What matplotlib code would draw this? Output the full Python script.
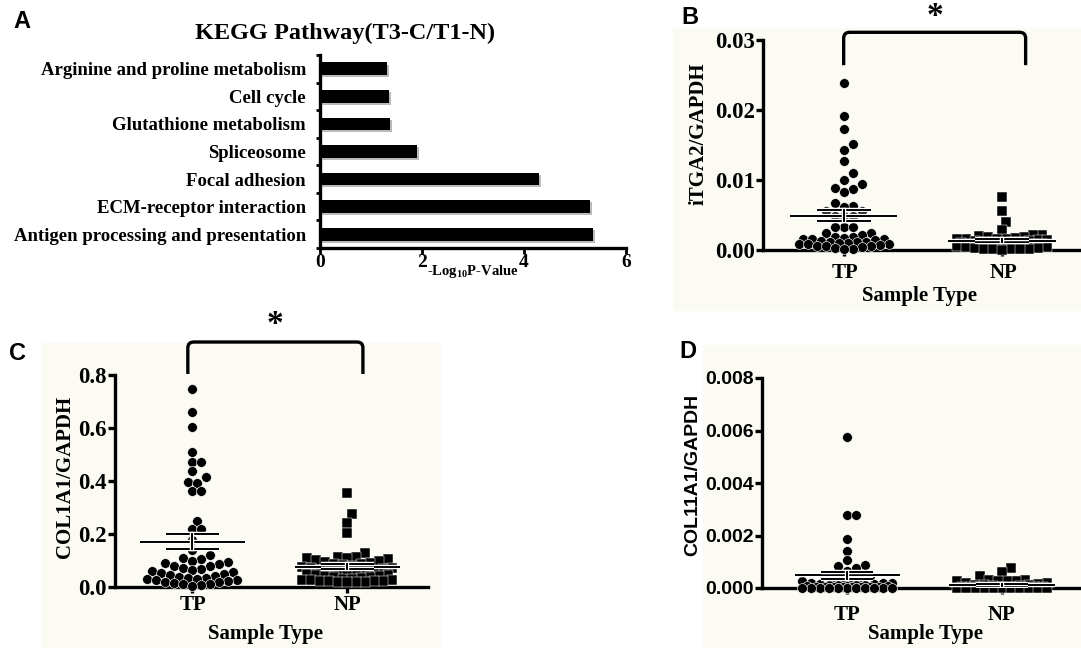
import numpy as np
import matplotlib
matplotlib.use("Agg")
import matplotlib.pyplot as plt
import matplotlib.patheffects as pe
from matplotlib.path import Path
from matplotlib.patches import PathPatch, Rectangle

# ---- data ----
kegg_pathways = ["Arginine and proline metabolism", "Cell cycle", "Glutathione metabolism",
                 "Spliceosome", "Focal adhesion", "ECM-receptor interaction",
                 "Antigen processing and presentation"]
kegg_neglog10p = [1.31, 1.35, 1.37, 1.90, 4.29, 5.29, 5.35]

groups = ["TP", "NP"]

itga2_tp = [0.0239, 0.0192, 0.0173, 0.0152, 0.0143, 0.0127, 0.0110, 0.0100, 0.0094,
            0.0088, 0.0087, 0.0083, 0.0067, 0.0063, 0.0062, 0.0055, 0.0055, 0.0048,
            0.0048, 0.0048, 0.0033, 0.0033, 0.0033, 0.0024, 0.0024,
            0.0021, 0.0019, 0.0018, 0.0017, 0.0016, 0.0015, 0.0015, 0.0014, 0.0013,
            0.0012, 0.0012, 0.0011, 0.0010, 0.0010, 0.0009, 0.0008, 0.0008, 0.0007,
            0.0006, 0.0006, 0.0005, 0.0004, 0.0003, 0.0002, 0.0001]
itga2_np = [0.0076, 0.0055, 0.0040, 0.0028, 0.0022, 0.0021, 0.0020, 0.0019, 0.0018,
            0.0017, 0.0016, 0.0016, 0.0015, 0.0015, 0.0014, 0.0014, 0.0013, 0.0013,
            0.0012, 0.0012, 0.0011, 0.0011, 0.0010, 0.0010, 0.0009, 0.0009, 0.0008,
            0.0008, 0.0007, 0.0007, 0.0006, 0.0006, 0.0005, 0.0005, 0.0004, 0.0004,
            0.0003, 0.0003, 0.0002, 0.0002, 0.0001, 0.0001, 0.0001, 0.0000]

col1a1_tp = [0.747, 0.659, 0.605, 0.511, 0.473, 0.473, 0.439, 0.416, 0.397, 0.394,
             0.361, 0.361, 0.250, 0.218, 0.218, 0.177, 0.140,
             0.120, 0.110, 0.105, 0.100, 0.095, 0.090, 0.085, 0.080, 0.078, 0.072,
             0.068, 0.065, 0.060, 0.056, 0.052, 0.048, 0.045, 0.042, 0.038, 0.035,
             0.035, 0.032, 0.030, 0.028, 0.025, 0.022, 0.020, 0.018, 0.015, 0.012,
             0.010, 0.008, 0.005]
col1a1_np = [0.354, 0.275, 0.243, 0.203, 0.129,
             0.115, 0.112, 0.110, 0.108, 0.105, 0.102, 0.100, 0.096, 0.092, 0.088,
             0.085, 0.082, 0.078, 0.075, 0.072, 0.070, 0.068, 0.065, 0.062, 0.060,
             0.058, 0.055, 0.052, 0.050, 0.048, 0.046, 0.044, 0.042, 0.040, 0.038,
             0.036, 0.034, 0.032, 0.030, 0.028, 0.026, 0.025, 0.024, 0.023, 0.022,
             0.021, 0.020, 0.019, 0.018, 0.017]

col11a1_tp = [0.00576, 0.00278, 0.00278, 0.00185, 0.00142, 0.00107, 0.00088, 0.00085,
              0.00075, 0.00065, 0.00045, 0.00045,
              0.00040, 0.00035, 0.00030, 0.00030, 0.00025, 0.00020, 0.00020, 0.00018,
              0.00015, 0.00015, 0.00012, 0.00010, 0.00010, 0.00010, 0.00008, 0.00008,
              0.00006, 0.00005, 0.00005, 0.00004, 0.00003, 0.00003, 0.00002, 0.00002,
              0.00002, 0.00001, 0.00001, 0.00001, 0.00001, 0.00001, 0.0, 0.0, 0.0,
              0.0, 0.0, 0.0]
col11a1_np = [0.00075, 0.00060, 0.00045, 0.00030, 0.00030, 0.00028, 0.00028, 0.00025,
              0.00025, 0.00020, 0.00018, 0.00015, 0.00012, 0.00010, 0.00010, 0.00008,
              0.00006, 0.00005, 0.00004, 0.00003, 0.00003, 0.00002, 0.00002, 0.00002,
              0.00001, 0.00001, 0.00001, 0.00001, 0.00001, 0.00001, 0.0, 0.0, 0.0, 0.0,
              0.0, 0.0, 0.0, 0.0, 0.0, 0.0]

SERIF = "Liberation Serif"
SANS = "Liberation Sans"
plt.rcParams["mathtext.fontset"] = "custom"
plt.rcParams["mathtext.rm"] = "Liberation Serif:bold"
plt.rcParams["mathtext.bf"] = "Liberation Serif:bold"
plt.rcParams["mathtext.default"] = "rm"

W, H = 1081, 648
fig = plt.figure(figsize=(W / 100, H / 100), dpi=100)


def px_axes(left, top, right, bottom):
    return fig.add_axes([left / W, 1 - bottom / H, (right - left) / W, (bottom - top) / H])


def ftext(x, y, s, **kw):
    return fig.text(x / W, 1 - y / H, s, ha="center", va="center", **kw)


# faint cream panels behind B, C, D
for x0, y0, x1, y1 in [(673, 28, 1081, 310), (42, 343, 440, 648), (703, 345, 1081, 648)]:
    fig.patches.append(Rectangle((x0 / W, 1 - y1 / H), (x1 - x0) / W, (y1 - y0) / H,
                                 transform=fig.transFigure, color="#fcfbf3", zorder=-5))


def swarm_x(ax, center, vals, d, half_max):
    # beeswarm offsets worked out in pixel space
    t = ax.transData
    ypx = t.transform(np.column_stack([np.full(len(vals), center), vals]))[:, 1]
    sx = t.transform((1, 0))[0] - t.transform((0, 0))[0]
    cand = [0.0]
    k = 1
    while k * d / 2 <= half_max:
        cand += [k * d / 2, -k * d / 2]
        k += 1
    px_l, py_l = [], []
    offs = np.zeros(len(vals))
    for i in np.argsort(vals, kind="stable"):
        best = 0.0
        if px_l:
            px_a, py_a = np.array(px_l), np.array(py_l)
            best_gap = -1
            for c in cand:
                gap = np.min(np.hypot(px_a - c, py_a - ypx[i]))
                if gap >= d:
                    best = c
                    break
                if gap > best_gap:
                    best, best_gap = c, gap
        offs[i] = best
        px_l.append(best)
        py_l.append(ypx[i])
    return center + offs / sx


def bracket(ax, x0, x1, y_low, y_top, r=6):
    t = ax.transData
    (ax0, ay_low), (ax1, ay_top) = t.transform([(x0, y_low), (x1, y_top)])
    pts = [(ax0, ay_low), (ax0, ay_top - r), (ax0, ay_top), (ax0 + r, ay_top),
           (ax1 - r, ay_top), (ax1, ay_top), (ax1, ay_top - r), (ax1, ay_low)]
    pts = fig.transFigure.inverted().transform(pts)
    codes = [Path.MOVETO, Path.LINETO, Path.CURVE3, Path.CURVE3,
             Path.LINETO, Path.CURVE3, Path.CURVE3, Path.LINETO]
    fig.patches.append(PathPatch(Path(pts, codes), transform=fig.transFigure,
                                 fill=False, lw=2.4, color="black", capstyle="butt"))


def dot_panel(box, tp_vals, np_vals, xlim, ymax, ystep, fmt, tickfont, tickfs):
    ax = px_axes(*box)
    ax.set_xlim(*xlim)
    ax.set_ylim(0, ymax)
    ax.patch.set_alpha(0)
    for s in ["top", "right"]:
        ax.spines[s].set_visible(False)
    for s in ["left", "bottom"]:
        ax.spines[s].set_linewidth(2.4)
    yt = np.arange(0, ymax + ystep / 2, ystep)
    ax.set_yticks(yt)
    ax.set_yticklabels([fmt.format(v) for v in yt], fontfamily=tickfont,
                       fontweight="bold", fontsize=tickfs)
    ax.tick_params(axis="y", length=5, width=2.4, pad=1)
    ax.set_xticks([0, 1])
    ax.set_xticklabels([])
    ax.tick_params(axis="x", length=4, width=2.4)
    for i, (vals, mk, sz, ew) in enumerate([(tp_vals, "o", 50, 0.45), (np_vals, "s", 46, 0.35)]):
        vals = np.asarray(vals, dtype=float)
        xs = swarm_x(ax, i, vals, 9.0, 45)
        ax.scatter(xs, vals, marker=mk, s=sz, c="black", edgecolors="white",
                   linewidths=ew, zorder=3, clip_on=False)
        m = vals.mean()
        sem = vals.std(ddof=1) / np.sqrt(len(vals))
        fx = [pe.Stroke(linewidth=3.2, foreground="white"), pe.Normal()]
        ax.plot([i - 0.34, i + 0.34], [m, m], color="black", lw=1.4, zorder=4,
                path_effects=fx, solid_capstyle="butt")
        for yv in (m - sem, m + sem):
            ax.plot([i - 0.17, i + 0.17], [yv, yv], color="black", lw=1.4, zorder=4,
                    path_effects=fx, solid_capstyle="butt")
        ax.plot([i, i], [m - sem, m + sem], color="black", lw=1.4, zorder=4,
                path_effects=fx)
    return ax


# ---- A: KEGG bars ----
axA = px_axes(320, 55, 626, 248)
ypos = np.arange(len(kegg_pathways))[::-1]
axA.barh(ypos, kegg_neglog10p, height=0.46, color="black", zorder=3,
         path_effects=[pe.SimplePatchShadow(offset=(1.5, -1.5), shadow_rgbFace="0.55", alpha=0.6),
                       pe.Normal()])
axA.set_xlim(0, 6)
axA.set_ylim(-0.5, 6.5)
axA.set_yticks(ypos)
axA.set_yticklabels(kegg_pathways, fontfamily=SERIF, fontweight="bold", fontsize=13.5)
axA.set_yticks(np.arange(-0.5, 7, 1), minor=True)
axA.tick_params(axis="y", which="major", length=0, pad=10)
axA.tick_params(axis="y", which="minor", length=3, width=2)
axA.set_xticks([0, 2, 4, 6])
axA.set_xticklabels(["0", "2", "4", "6"], fontfamily=SERIF, fontweight="bold", fontsize=14)
axA.tick_params(axis="x", length=4, width=2, pad=0)
for s in ["top", "right"]:
    axA.spines[s].set_visible(False)
for s in ["left", "bottom"]:
    axA.spines[s].set_linewidth(2.4)
ftext(345, 33, "KEGG Pathway(T3-C/T1-N)", fontfamily=SERIF, fontweight="bold", fontsize=17.5)
ftext(473, 271, "-Log$_{10}$P-Value", fontfamily=SERIF, fontweight="bold", fontsize=10.5)

# ---- B: iTGA2 ----
axB = dot_panel((763, 40, 1081, 250), itga2_tp, itga2_np, (-0.51, 1.5), 0.03, 0.01,
                "{:.2f}", SERIF, 16.5)
bracket(axB, 0.0, 1.15, 0.0264, 0.0311)
axB.text(0.58, 0.0333, "*", ha="center", va="center", fontsize=24, fontweight="bold",
         fontfamily=SERIF)
ftext(699, 134, "iTGA2/GAPDH", rotation=90, fontfamily=SERIF, fontweight="bold", fontsize=15)
ftext(845, 273, groups[0], fontfamily=SERIF, fontweight="bold", fontsize=15)
ftext(1003, 273, groups[1], fontfamily=SERIF, fontweight="bold", fontsize=15)
ftext(920, 296, "Sample Type", fontfamily=SERIF, fontweight="bold", fontsize=15)

# ---- C: COL1A1 ----
axC = dot_panel((115, 375, 428, 587), col1a1_tp, col1a1_np, (-0.5, 1.52), 0.8, 0.2,
                "{:.1f}", SERIF, 16.5)
bracket(axC, -0.03, 1.10, 0.804, 0.9245)
axC.text(0.53, 0.99, "*", ha="center", va="center", fontsize=24, fontweight="bold",
         fontfamily=SERIF)
ftext(65, 477, "COL1A1/GAPDH", rotation=90, fontfamily=SERIF, fontweight="bold", fontsize=15)
ftext(193, 605, groups[0], fontfamily=SERIF, fontweight="bold", fontsize=15)
ftext(348, 605, groups[1], fontfamily=SERIF, fontweight="bold", fontsize=15)
ftext(266, 634, "Sample Type", fontfamily=SERIF, fontweight="bold", fontsize=15)

# ---- D: COL11A1 ----
axD = dot_panel((762, 378, 1081, 588), col11a1_tp, col11a1_np, (-0.55, 1.51), 0.008, 0.002,
                "{:.3f}", SANS, 14)
ftext(693, 475, "COL11A1/GAPDH", rotation=90, fontfamily=SANS, fontweight="bold", fontsize=14)
ftext(847, 615, groups[0], fontfamily=SERIF, fontweight="bold", fontsize=15)
ftext(1002, 615, groups[1], fontfamily=SERIF, fontweight="bold", fontsize=15)
ftext(925, 634, "Sample Type", fontfamily=SERIF, fontweight="bold", fontsize=15)

# panel letters
for lbl, x, y in [("A", 22, 22), ("B", 690, 18), ("C", 18, 353), ("D", 688, 352)]:
    ftext(x, y, lbl, fontfamily=SANS, fontweight="bold", fontsize=17)

fig.savefig("out.png", dpi=100, facecolor="white")
